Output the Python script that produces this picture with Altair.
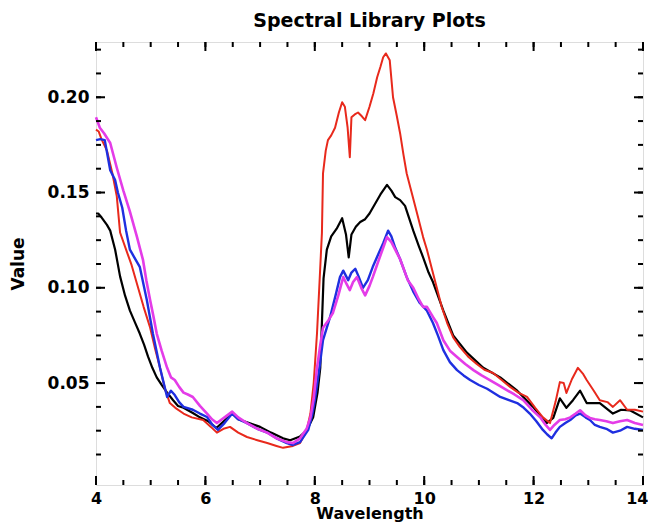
import altair as alt
import pandas as pd

# ---- data ----
black_w = [4.0, 4.04, 4.1, 4.2, 4.26, 4.35, 4.44, 4.53, 4.62, 4.71, 4.80, 4.88, 4.95, 5.03, 5.11, 5.2, 5.3, 5.41,
           5.5, 5.6, 5.77, 5.9, 6.05, 6.2, 6.3, 6.49, 6.6, 6.8, 7.0, 7.2, 7.42, 7.55, 7.73, 7.85, 7.97, 8.05, 8.1,
           8.16, 8.22, 8.3, 8.4, 8.5, 8.57, 8.62, 8.67, 8.75, 8.83, 8.92, 9.0, 9.1, 9.2, 9.32, 9.4, 9.47, 9.56, 9.65,
           9.8, 9.9, 9.98, 10.08, 10.16, 10.35, 10.53, 10.78, 11.08, 11.39, 11.7, 11.99, 12.12, 12.24, 12.36, 12.48,
           12.6, 12.72, 12.85, 12.97, 13.21, 13.45, 13.6, 13.76, 14.0]
black_v = [0.139, 0.139, 0.137, 0.133, 0.130, 0.120, 0.106, 0.096, 0.088, 0.082, 0.076, 0.070, 0.064, 0.058, 0.053,
           0.049, 0.045, 0.041, 0.038, 0.037, 0.0343, 0.032, 0.030, 0.0264, 0.029, 0.034, 0.031, 0.029, 0.027, 0.024,
           0.021, 0.020, 0.022, 0.025, 0.032, 0.045, 0.058, 0.105, 0.120, 0.127, 0.131, 0.1365, 0.128, 0.116, 0.128,
           0.132, 0.1345, 0.136, 0.139, 0.144, 0.149, 0.154, 0.151, 0.1476, 0.146, 0.143, 0.130, 0.122, 0.116, 0.108,
           0.103, 0.088, 0.075, 0.066, 0.058, 0.053, 0.046, 0.0375, 0.033, 0.029, 0.0317, 0.042, 0.037, 0.041, 0.046,
           0.0395, 0.0395, 0.034, 0.036, 0.0357, 0.032]

red_w = [4.0, 4.05, 4.1, 4.2, 4.3, 4.38, 4.44, 4.55, 4.65, 4.75, 4.87, 4.99, 5.08, 5.17, 5.26, 5.35, 5.45, 5.6, 5.75,
         5.96, 6.1, 6.21, 6.33, 6.45, 6.6, 6.76, 6.95, 7.13, 7.3, 7.42, 7.6, 7.73, 7.85, 7.92, 7.98, 8.04, 8.09, 8.13,
         8.15, 8.2, 8.24, 8.3, 8.37, 8.44, 8.5, 8.55, 8.6, 8.64, 8.67, 8.73, 8.79, 8.86, 8.92, 9.0, 9.07, 9.14, 9.2,
         9.25, 9.3, 9.37, 9.43, 9.5, 9.56, 9.62, 9.68, 9.78, 9.87, 9.98, 10.05, 10.14, 10.23, 10.32, 10.42, 10.53,
         10.65, 10.8, 10.96, 11.1, 11.26, 11.4, 11.57, 11.72, 11.88, 12.03, 12.17, 12.3, 12.4, 12.48, 12.55, 12.6,
         12.7, 12.81, 12.9, 12.97, 13.1, 13.21, 13.35, 13.45, 13.58, 13.71, 13.85, 14.0]
red_v = [0.183, 0.182, 0.178, 0.172, 0.160, 0.148, 0.129, 0.120, 0.112, 0.102, 0.090, 0.079, 0.068, 0.058, 0.047,
         0.0395, 0.037, 0.034, 0.032, 0.0306, 0.027, 0.024, 0.026, 0.027, 0.024, 0.0217, 0.020, 0.0185, 0.017, 0.016,
         0.017, 0.0185, 0.025, 0.034, 0.050, 0.076, 0.105, 0.1287, 0.160, 0.172, 0.1775, 0.180, 0.184, 0.192, 0.1974,
         0.195, 0.184, 0.1685, 0.1895, 0.191, 0.192, 0.190, 0.188, 0.195, 0.202, 0.2105, 0.216, 0.221, 0.223, 0.2194,
         0.200, 0.190, 0.181, 0.170, 0.160, 0.149, 0.139, 0.1266, 0.120, 0.110, 0.100, 0.090, 0.0815, 0.074, 0.069,
         0.064, 0.060, 0.057, 0.0553, 0.052, 0.048, 0.045, 0.0427, 0.037, 0.032, 0.029, 0.040, 0.0505, 0.050, 0.0448,
         0.052, 0.058, 0.055, 0.0516, 0.046, 0.041, 0.040, 0.0375, 0.041, 0.036, 0.036, 0.035]

blue_w = [4.0, 4.08, 4.16, 4.26, 4.35, 4.4, 4.48, 4.55, 4.62, 4.7, 4.80, 4.93, 5.04, 5.17, 5.3, 5.37, 5.44, 5.52, 5.6,
          5.77, 5.9, 6.03, 6.13, 6.23, 6.35, 6.49, 6.6, 6.76, 6.95, 7.13, 7.3, 7.49, 7.6, 7.73, 7.88, 7.95, 8.0, 8.08,
          8.15, 8.28, 8.38, 8.46, 8.52, 8.61, 8.67, 8.74, 8.8, 8.88, 8.97, 9.06, 9.15, 9.25, 9.34, 9.4, 9.47, 9.56,
          9.68, 9.8, 9.92, 10.05, 10.16, 10.25, 10.35, 10.47, 10.6, 10.72, 10.84, 11.0, 11.15, 11.39, 11.55, 11.7,
          11.82, 11.93, 12.05, 12.17, 12.25, 12.33, 12.4, 12.48, 12.58, 12.67, 12.77, 12.85, 12.95, 13.03, 13.12,
          13.21, 13.33, 13.45, 13.58, 13.71, 13.85, 14.0]
blue_v = [0.1775, 0.178, 0.1775, 0.1617, 0.1565, 0.150, 0.142, 0.130, 0.120, 0.116, 0.111, 0.0935, 0.076, 0.058,
          0.0427, 0.046, 0.0437, 0.040, 0.0375, 0.036, 0.034, 0.0322, 0.028, 0.0254, 0.029, 0.034, 0.031, 0.029,
          0.026, 0.024, 0.021, 0.0185, 0.0175, 0.019, 0.0254, 0.033, 0.041, 0.057, 0.0725, 0.0847, 0.096, 0.1056,
          0.109, 0.104, 0.108, 0.110, 0.106, 0.100, 0.104, 0.111, 0.117, 0.1234, 0.130, 0.127, 0.121, 0.115, 0.1056,
          0.098, 0.092, 0.088, 0.0815, 0.075, 0.0673, 0.061, 0.0568, 0.054, 0.0516, 0.049, 0.047, 0.0427, 0.041,
          0.0395, 0.037, 0.034, 0.030, 0.0254, 0.023, 0.021, 0.024, 0.027, 0.029, 0.0306, 0.033, 0.034, 0.032,
          0.0306, 0.028, 0.027, 0.026, 0.024, 0.025, 0.027, 0.026, 0.0254]

magenta_w = [4.0, 4.07, 4.15, 4.26, 4.38, 4.5, 4.62, 4.75, 4.86, 4.92, 4.99, 5.05, 5.11, 5.2, 5.3, 5.37, 5.44, 5.52,
             5.6, 5.68, 5.77, 5.9, 6.03, 6.12, 6.21, 6.35, 6.49, 6.6, 6.76, 6.95, 7.13, 7.3, 7.49, 7.6, 7.73, 7.85,
             7.92, 7.98, 8.04, 8.1, 8.15, 8.25, 8.33, 8.43, 8.52, 8.58, 8.64, 8.7, 8.77, 8.85, 8.92, 9.0, 9.06, 9.15,
             9.25, 9.32, 9.4, 9.47, 9.56, 9.7, 9.8, 9.9, 9.98, 10.05, 10.16, 10.23, 10.35, 10.47, 10.6, 10.75, 10.9,
             11.05, 11.2, 11.35, 11.51, 11.65, 11.81, 11.97, 12.12, 12.22, 12.3, 12.38, 12.48, 12.58, 12.67, 12.77,
             12.85, 12.95, 13.03, 13.12, 13.21, 13.33, 13.45, 13.58, 13.71, 13.85, 14.0]
magenta_v = [0.1895, 0.184, 0.181, 0.176, 0.163, 0.151, 0.140, 0.1266, 0.1145, 0.104, 0.0935, 0.085, 0.076, 0.067,
             0.058, 0.053, 0.0516, 0.048, 0.045, 0.044, 0.0427, 0.038, 0.034, 0.031, 0.029, 0.032, 0.035, 0.032,
             0.029, 0.026, 0.024, 0.021, 0.019, 0.0185, 0.021, 0.026, 0.032, 0.042, 0.058, 0.070, 0.079, 0.083,
             0.0867, 0.096, 0.1056, 0.102, 0.0988, 0.103, 0.1056, 0.100, 0.096, 0.101, 0.1056, 0.113, 0.121, 0.1266,
             0.124, 0.120, 0.115, 0.104, 0.100, 0.094, 0.090, 0.090, 0.0847, 0.0815, 0.0725, 0.067, 0.0637, 0.060,
             0.0568, 0.054, 0.0516, 0.049, 0.0463, 0.044, 0.041, 0.036, 0.032, 0.028, 0.0254, 0.028, 0.0306, 0.031,
             0.032, 0.034, 0.0357, 0.033, 0.0317, 0.031, 0.0306, 0.030, 0.029, 0.030, 0.0306, 0.029, 0.028]

x_major = [4, 6, 8, 10, 12, 14]
x_minor = [4 + 0.5 * i for i in range(21)]
y_major = [0.05, 0.10, 0.15, 0.20]
y_minor = [0.0125 * i for i in range(1, 19)]

series = [("black", black_w, black_v, "#000000", 2.2),
          ("red", red_w, red_v, "#e8291c", 2.0),
          ("blue", blue_w, blue_v, "#1f2fe0", 2.4),
          ("magenta", magenta_w, magenta_v, "#e43ce8", 2.6)]

FONT = "DejaVu Sans"
X_DOM = [4, 14]
Y_DOM = [-0.0035, 0.229]
W, H = 547, 443

xs = alt.Scale(domain=X_DOM, nice=False, zero=False)
ys = alt.Scale(domain=Y_DOM, nice=False, zero=False)

last_x = x_major[-1]
x_axis = alt.Axis(values=x_major, format="d", title="Wavelength", ticks=False, domain=False, grid=False,
                  labelFont=FONT, labelFontWeight="bold", labelFontSize=16, labelColor="black",
                  labelPadding=5, labelFlush=False,
                  labelAlign={"condition": {"test": f"datum.value == {last_x}", "value": "right"},
                              "value": "center"},
                  labelOffset={"condition": {"test": f"datum.value == {last_x}", "value": 5},
                               "value": 0},
                  titleFont=FONT, titleFontWeight="bold",
                  titleFontSize=16, titleColor="black", titleBaseline="alphabetic", titleY=33)
y_axis = alt.Axis(values=y_major, format=".2f", title="Value", ticks=False, domain=False, grid=False,
                  labelFont=FONT, labelFontWeight="bold", labelFontSize=17, labelColor="black",
                  labelPadding=7, titleFont=FONT, titleFontWeight="bold", titleFontSize=17,
                  titleColor="black", titlePadding=20)

layers = []
for name, w, v, col, sw in series:
    df = pd.DataFrame({"Wavelength": w, "Value": v})
    layers.append(alt.Chart(df).mark_line(color=col, strokeWidth=sw, strokeJoin="round")
                  .encode(x=alt.X("Wavelength:Q", scale=xs, axis=x_axis),
                          y=alt.Y("Value:Q", scale=ys, axis=y_axis),
                          order="Wavelength:Q"))

xmaj = pd.DataFrame({"Wavelength": x_major})
xmin = pd.DataFrame({"Wavelength": x_minor})
ymaj = pd.DataFrame({"Value": y_major})
ymin = pd.DataFrame({"Value": y_minor})

def xticks(df, ln):
    bot = alt.Chart(df).mark_rule(color="black", strokeWidth=2).encode(
        x=alt.X("Wavelength:Q", scale=xs, axis=x_axis), y=alt.value(H), y2=alt.value(H - ln))
    top = alt.Chart(df).mark_rule(color="black", strokeWidth=2).encode(
        x=alt.X("Wavelength:Q", scale=xs, axis=x_axis), y=alt.value(0), y2=alt.value(ln))
    return [bot, top]

def yticks(df, ln):
    lft = alt.Chart(df).mark_rule(color="black", strokeWidth=2).encode(
        y=alt.Y("Value:Q", scale=ys, axis=y_axis), x=alt.value(0), x2=alt.value(ln))
    rgt = alt.Chart(df).mark_rule(color="black", strokeWidth=2).encode(
        y=alt.Y("Value:Q", scale=ys, axis=y_axis), x=alt.value(W), x2=alt.value(W - ln))
    return [lft, rgt]

tick_layers = xticks(xmin, 5) + xticks(xmaj, 9) + yticks(ymin, 5) + yticks(ymaj, 9)

chart = alt.layer(*layers, *tick_layers).properties(
    width=W, height=H,
    title=alt.TitleParams("Spectral Library Plots", font=FONT, fontSize=19, fontWeight="bold",
                          color="black", offset=10, anchor="middle"),
    autosize=alt.AutoSizeParams(type="none"),
    padding={"left": 88, "top": 34, "right": 5, "bottom": 38},
).configure_view(stroke="black", strokeWidth=2.6).configure(background="white")

chart.save("out.html", embed_options={"renderer": "svg", "actions": False})
